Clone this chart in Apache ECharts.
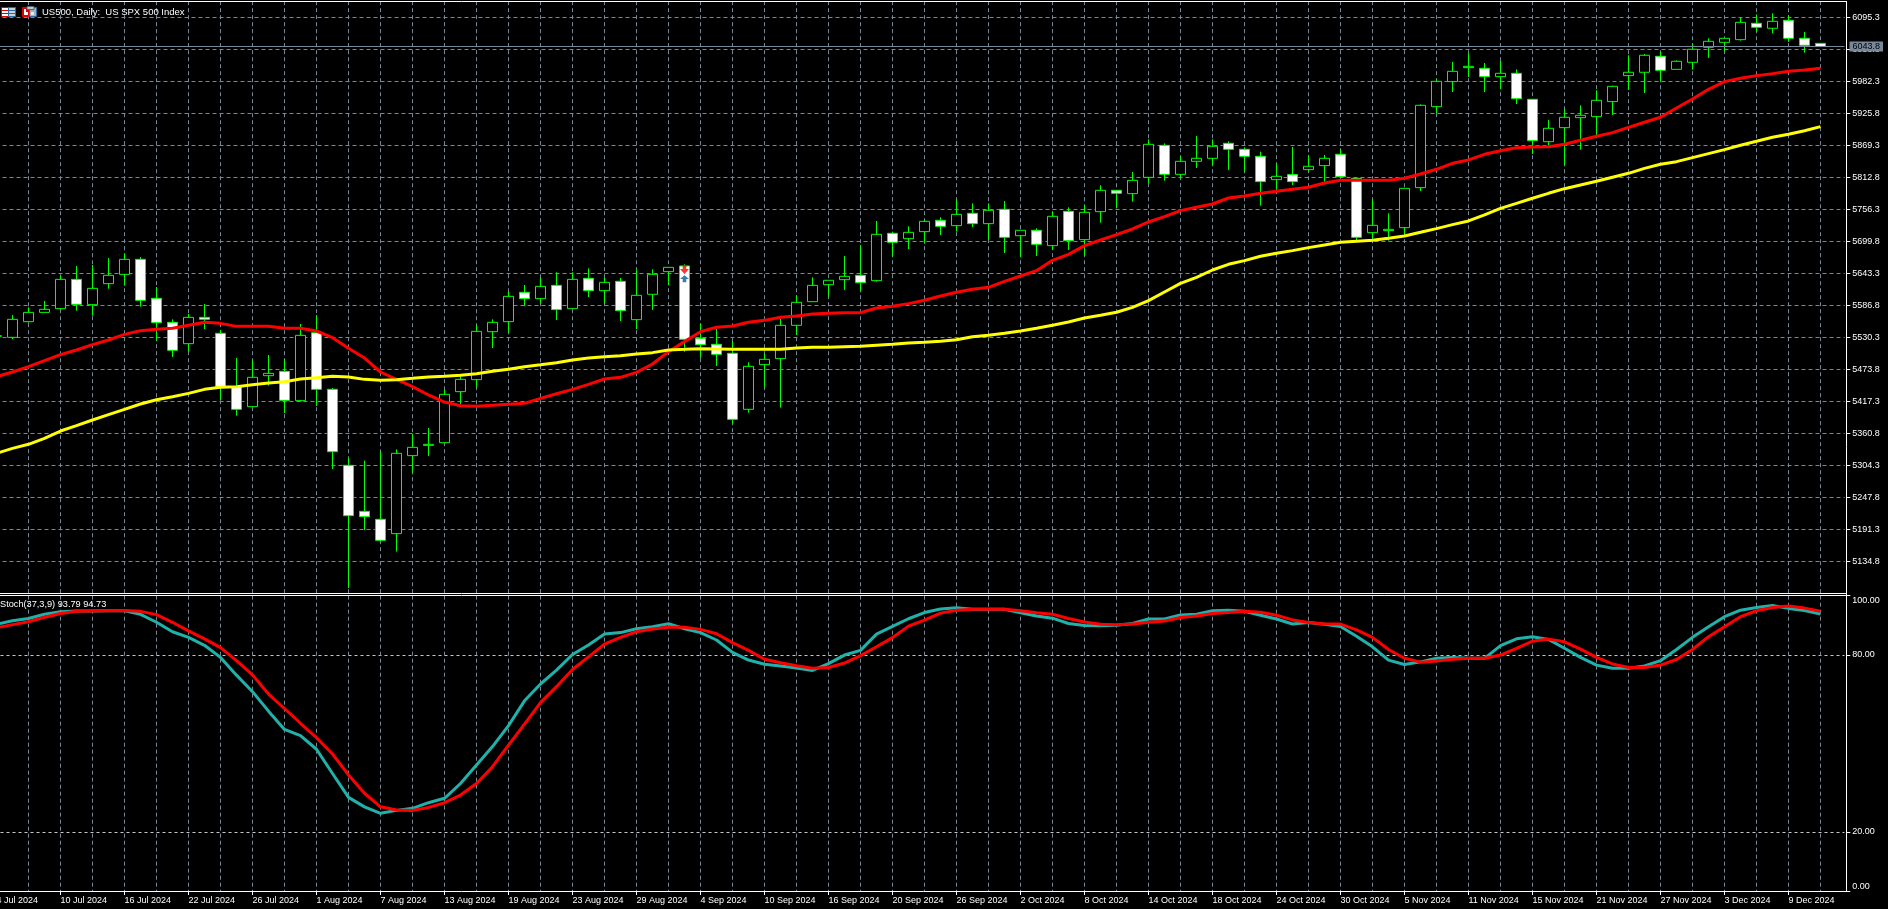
<!DOCTYPE html>
<html>
<head>
<meta charset="utf-8">
<title>US500, Daily</title>
<style>
  html, body { margin: 0; padding: 0; background: #000; }
  #chart { width: 1888px; height: 909px; }
</style>
</head>
<body>
<div id="chart"></div>
<script src="https://cdn.jsdelivr.net/npm/echarts@6/dist/echarts.min.js"></script>
<script>
// trading days, the last empty one is the blank space after the last bar
var dates = [
  '4 Jul 2024','5 Jul 2024','8 Jul 2024','9 Jul 2024','10 Jul 2024','11 Jul 2024','12 Jul 2024','15 Jul 2024','16 Jul 2024','17 Jul 2024',
  '18 Jul 2024','19 Jul 2024','22 Jul 2024','23 Jul 2024','24 Jul 2024','25 Jul 2024','26 Jul 2024','29 Jul 2024','30 Jul 2024','31 Jul 2024',
  '1 Aug 2024','2 Aug 2024','5 Aug 2024','6 Aug 2024','7 Aug 2024','8 Aug 2024','9 Aug 2024','12 Aug 2024','13 Aug 2024','14 Aug 2024',
  '15 Aug 2024','16 Aug 2024','19 Aug 2024','20 Aug 2024','21 Aug 2024','22 Aug 2024','23 Aug 2024','26 Aug 2024','27 Aug 2024','28 Aug 2024',
  '29 Aug 2024','30 Aug 2024','2 Sep 2024','3 Sep 2024','4 Sep 2024','5 Sep 2024','6 Sep 2024','9 Sep 2024','10 Sep 2024','11 Sep 2024',
  '12 Sep 2024','13 Sep 2024','16 Sep 2024','17 Sep 2024','18 Sep 2024','19 Sep 2024','20 Sep 2024','23 Sep 2024','24 Sep 2024','25 Sep 2024',
  '26 Sep 2024','27 Sep 2024','30 Sep 2024','1 Oct 2024','2 Oct 2024','3 Oct 2024','4 Oct 2024','7 Oct 2024','8 Oct 2024','9 Oct 2024',
  '10 Oct 2024','11 Oct 2024','14 Oct 2024','15 Oct 2024','16 Oct 2024','17 Oct 2024','18 Oct 2024','21 Oct 2024','22 Oct 2024','23 Oct 2024',
  '24 Oct 2024','25 Oct 2024','28 Oct 2024','29 Oct 2024','30 Oct 2024','31 Oct 2024','1 Nov 2024','4 Nov 2024','5 Nov 2024','6 Nov 2024',
  '7 Nov 2024','8 Nov 2024','11 Nov 2024','12 Nov 2024','13 Nov 2024','14 Nov 2024','15 Nov 2024','18 Nov 2024','19 Nov 2024','20 Nov 2024',
  '21 Nov 2024','22 Nov 2024','25 Nov 2024','26 Nov 2024','27 Nov 2024','28 Nov 2024','29 Nov 2024','2 Dec 2024','3 Dec 2024','4 Dec 2024',
  '5 Dec 2024','6 Dec 2024','9 Dec 2024','10 Dec 2024','11 Dec 2024',''
];

var priceOpen = [
  5532.0,5530.2,5557.9,5574.3,5580.8,5632.6,5587.9,5625.0,5641.4,5667.9,
  5599.1,5556.7,5519.0,5565.5,5537.3,5443.1,5407.8,5462.5,5470.2,5418.4,
  5538.4,5438.4,5304.2,5223.0,5208.9,5183.6,5321.3,5339.5,5344.2,5434.3,
  5455.5,5540.2,5557.9,5609.7,5598.5,5622.0,5580.8,5634.4,5612.6,5629.1,
  5561.4,5606.2,5646.2,5656.2,5528.5,5517.9,5502.0,5403.1,5482.0,5492.6,
  5551.4,5593.2,5623.2,5632.0,5639.7,5630.3,5713.9,5704.4,5716.8,5736.8,
  5727.4,5749.2,5730.9,5756.2,5709.7,5719.2,5692.1,5752.7,5702.7,5752.1,
  5789.8,5783.9,5812.7,5869.2,5818.0,5841.0,5846.3,5872.8,5862.2,5849.8,
  5808.6,5817.5,5826.3,5833.4,5853.4,5811.0,5715.0,5718.6,5723.9,5794.5,
  5937.5,5981.7,6006.4,6005.2,5990.5,5996.4,5950.5,5875.7,5900.4,5918.1,
  5919.9,5946.4,5992.3,5998.2,6026.4,6003.4,6015.8,6042.3,6051.1,6055.8,
  6084.7,6075.9,6090.0,6058.2,6049.3
];
var priceClose = [
  5533.0,5562.0,5574.3,5579.6,5632.6,5588.5,5616.7,5639.7,5667.9,5595.5,
  5556.1,5507.3,5565.5,5562.0,5443.1,5403.1,5459.6,5466.6,5419.0,5533.7,
  5438.4,5328.3,5215.3,5213.6,5171.8,5325.4,5336.0,5341.3,5429.6,5456.0,
  5540.8,5556.7,5602.6,5598.5,5620.2,5579.1,5632.6,5612.6,5627.3,5577.3,
  5604.4,5641.5,5653.8,5526.7,5517.3,5500.2,5385.4,5479.0,5491.4,5551.4,
  5592.0,5622.0,5630.9,5637.9,5626.7,5712.1,5698.0,5715.6,5735.0,5726.2,
  5747.4,5730.9,5754.5,5706.8,5719.2,5694.4,5743.9,5700.9,5750.9,5789.8,
  5784.5,5807.4,5871.0,5818.0,5841.0,5846.3,5867.5,5862.2,5849.8,5805.1,
  5814.5,5805.1,5832.2,5846.3,5813.9,5706.8,5728.0,5720.9,5793.3,5939.9,
  5982.2,5999.9,6008.7,5990.5,5996.4,5951.6,5877.5,5899.3,5918.7,5922.2,
  5948.7,5973.4,5998.2,6028.2,6001.7,6017.6,6038.8,6052.9,6058.2,6086.4,
  6077.6,6088.2,6058.2,6045.8,6043.8
];
var priceLow = [
  5530.0,5527.3,5556.1,5574.3,5578.5,5577.3,5568.5,5616.1,5621.4,5584.3,
  5524.3,5495.5,5504.9,5544.9,5419.6,5391.9,5407.8,5444.9,5396.6,5416.6,
  5409.0,5297.7,5087.6,5190.0,5171.8,5151.8,5291.3,5320.7,5344.2,5412.5,
  5440.7,5511.4,5538.4,5585.5,5590.2,5560.8,5580.8,5601.4,5589.1,5559.0,
  5544.9,5578.5,5622.6,5504.9,5493.7,5479.6,5378.4,5397.2,5441.4,5406.1,
  5534.3,5593.2,5602.0,5613.8,5610.9,5628.5,5672.7,5686.2,5695.6,5710.9,
  5716.8,5725.0,5702.1,5679.1,5672.1,5673.8,5685.0,5684.4,5674.4,5732.7,
  5758.0,5769.8,5802.1,5806.8,5811.0,5829.2,5833.3,5825.7,5822.1,5762.7,
  5790.4,5799.2,5823.4,5805.1,5813.9,5700.9,5702.1,5700.9,5709.2,5788.6,
  5925.2,5963.4,5989.9,5963.4,5968.7,5942.2,5854.0,5868.7,5833.4,5861.6,
  5887.5,5922.8,5967.0,5961.6,5982.8,6003.4,6002.8,6023.5,6034.6,6054.1,
  6069.4,6067.0,6051.7,6032.9,6043.8
];
var priceHigh = [
  5536.0,5569.6,5583.2,5594.4,5638.5,5656.2,5657.9,5670.3,5677.3,5672.0,
  5619.1,5562.0,5571.4,5589.1,5543.2,5493.7,5489.6,5499.0,5491.9,5553.7,
  5569.6,5440.7,5317.2,5312.4,5329.5,5332.5,5359.5,5370.1,5437.2,5461.9,
  5552.0,5562.0,5611.4,5622.6,5636.1,5645.0,5645.0,5652.0,5635.0,5635.0,
  5649.1,5650.3,5653.8,5659.1,5554.9,5544.9,5523.8,5486.1,5500.8,5562.6,
  5604.4,5636.2,5630.9,5673.8,5693.3,5735.6,5716.8,5726.2,5738.6,5742.1,
  5773.9,5766.8,5766.8,5770.9,5719.2,5722.7,5752.7,5759.8,5763.3,5798.6,
  5789.8,5822.1,5879.8,5872.8,5849.8,5885.7,5879.8,5876.3,5865.7,5858.1,
  5837.5,5866.3,5852.2,5852.2,5862.8,5812.2,5774.5,5749.2,5793.3,5941.6,
  5987.0,6016.4,6030.5,6014.6,6018.2,6003.4,5950.5,5914.0,5932.8,5939.9,
  5966.4,5974.6,6028.2,6030.5,6034.6,6019.3,6049.3,6058.2,6058.2,6094.1,
  6100.5,6102.3,6099.4,6069.4,6049.3
];

var maFast = [
  5460.8,5469.0,5478.4,5489.0,5499.6,5507.8,5517.3,5525.5,5535.5,5542.0,
  5544.3,5546.1,5551.4,5556.7,5554.9,5549.6,5549.6,5549.6,5546.1,5546.1,
  5541.4,5529.6,5510.8,5493.7,5469.0,5456.0,5443.1,5428.4,5416.0,5409.5,
  5408.4,5410.1,5411.9,5413.7,5422.5,5430.7,5438.4,5447.2,5456.6,5459.6,
  5468.4,5483.1,5504.9,5522.6,5540.2,5547.9,5550.2,5556.7,5560.2,5565.5,
  5567.9,5571.4,5572.6,5573.8,5573.8,5582.0,5585.0,5589.7,5595.6,5603.2,
  5609.7,5615.0,5618.5,5629.1,5638.5,5647.9,5666.2,5676.8,5692.1,5702.1,
  5711.5,5721.5,5733.9,5743.3,5753.9,5759.8,5765.6,5776.2,5779.8,5784.5,
  5788.0,5791.6,5795.1,5802.8,5807.5,5807.5,5807.5,5807.5,5811.0,5818.6,
  5826.9,5837.5,5843.4,5853.4,5859.8,5865.1,5866.3,5866.9,5871.0,5878.1,
  5885.2,5891.6,5901.0,5909.9,5918.7,5935.2,5951.1,5968.1,5981.7,5987.6,
  5992.3,5995.8,5999.9,6002.3,6005.2
];
var maSlow = [
  5325.4,5334.2,5341.3,5351.9,5364.8,5374.2,5384.2,5393.7,5403.1,5412.5,
  5420.1,5425.4,5431.3,5438.4,5441.9,5443.1,5446.6,5449.6,5451.9,5456.6,
  5459.0,5461.3,5460.2,5456.0,5454.3,5455.5,5457.8,5460.2,5461.3,5463.1,
  5466.1,5470.2,5473.7,5478.4,5481.9,5485.5,5490.2,5493.7,5496.1,5497.8,
  5500.8,5503.2,5507.9,5509.0,5510.2,5509.6,5509.0,5509.0,5509.0,5509.0,
  5511.4,5512.6,5512.6,5513.7,5514.3,5516.1,5517.9,5520.2,5521.4,5523.2,
  5526.1,5531.4,5533.8,5537.3,5541.4,5546.1,5551.4,5557.3,5564.4,5569.1,
  5574.4,5583.2,5595.0,5610.3,5625.6,5636.2,5649.1,5659.1,5665.6,5673.3,
  5678.6,5683.3,5688.6,5693.3,5698.0,5699.8,5701.5,5705.0,5709.2,5715.6,
  5722.1,5729.2,5735.7,5746.3,5758.0,5766.8,5775.7,5784.5,5792.7,5799.2,
  5805.7,5812.8,5819.8,5828.6,5835.7,5840.4,5847.5,5854.6,5861.6,5869.3,
  5876.3,5883.4,5888.7,5895.1,5902.2
];

var stochMain = [
  90.3,91.5,92.3,93.7,94.6,94.8,94.8,94.9,94.9,93.7,
  91.0,87.8,85.9,83.2,79.1,73.1,67.5,60.9,54.7,52.6,
  48.0,39.8,31.7,28.5,26.3,27.3,28.0,29.9,31.4,36.4,
  42.7,48.9,56.0,64.4,70.1,74.8,80.1,83.3,87.0,87.5,
  88.8,89.5,90.5,88.8,87.5,85.0,80.8,78.2,76.8,76.2,
  75.5,74.7,77.0,79.9,81.5,87.0,89.6,92.2,94.3,95.5,
  95.9,95.4,95.4,95.4,94.2,93.1,92.4,90.6,89.9,89.8,
  90.0,90.6,92.1,92.1,93.5,93.7,94.9,95.1,94.7,93.4,
  92.1,90.4,90.9,90.3,89.6,86.3,82.7,78.2,76.7,77.6,
  78.8,79.1,78.8,78.8,83.1,85.4,86.1,85.2,82.2,79.1,
  76.5,75.4,75.4,76.2,78.0,81.8,85.9,89.5,92.9,95.1,
  96.0,96.7,95.7,95.0,93.79
];
var stochSignal = [
  89.2,90.2,91.2,92.7,94.0,94.7,94.8,94.9,95.0,94.7,
  93.6,91.0,88.1,85.4,82.4,78.0,73.2,66.7,61.8,56.8,
  51.9,46.4,39.3,33.1,28.5,27.4,27.3,28.3,29.9,32.5,
  36.4,42.1,49.4,56.5,63.8,69.2,75.0,79.3,83.6,85.9,
  87.8,88.7,89.3,89.3,88.6,87.1,84.1,81.5,78.5,77.3,
  76.3,75.4,75.7,77.2,79.7,82.7,85.8,89.7,91.7,94.1,
  95.1,95.4,95.4,95.4,94.9,94.2,93.7,92.3,91.1,90.3,
  90.2,90.4,91.0,91.4,92.6,93.1,94.0,94.3,94.7,94.4,
  93.4,91.8,90.9,90.4,90.4,88.4,85.9,81.8,78.8,77.5,
  77.9,78.5,78.8,78.8,79.9,82.2,84.6,85.3,84.4,81.9,
  79.1,76.9,75.7,75.7,76.5,78.4,81.8,86.1,89.5,92.9,
  94.9,96.0,96.5,95.8,94.73
];

var priceTicks = [5134.8,5191.3,5247.8,5304.3,5360.8,5417.3,5473.8,5530.3,5586.8,5643.3,5699.8,5756.3,5812.8,5869.3,5925.8,5982.3,6038.8,6095.3];
var stochTicks = [0,20,80,100];
var lastPrice = 6043.8;
var sellArrow = 5650;
var buyArrow = 5633.7;
var arrowDate = '3 Sep 2024';

var gridColor = '#778899';
var labelFont = { color: '#fff', fontFamily: 'Liberation Sans', fontSize: 9 };

var candles = priceOpen.map(function (o, i) {
  return [o, priceClose[i], priceLow[i], priceHigh[i]];
});

function frameLine(x1, y1, x2, y2) {
  return {
    type: 'line',
    z: 100,
    silent: true,
    shape: { x1: x1, y1: y1, x2: x2, y2: y2 },
    style: { stroke: '#fff', lineWidth: 1 }
  };
}
function box(x, y, w, h, fill, stroke) {
  return {
    type: 'rect',
    z: 100,
    silent: true,
    shape: { x: x, y: y, width: w, height: h },
    style: { fill: fill, stroke: stroke || null, lineWidth: 1 }
  };
}

var myChart = echarts.init(document.getElementById('chart'), null, { renderer: 'canvas' });
myChart.setOption({
  animation: false,
  backgroundColor: '#000',
  title: [
    {
      text: 'US500, Daily:  US SPX 500 Index',
      left: 42,
      top: 7.5,
      padding: 0,
      textStyle: { color: '#fff', fontFamily: 'Liberation Sans', fontSize: 9.5, fontWeight: 'normal' }
    },
    {
      text: 'Stoch(37,3,9) 93.79 94.73',
      left: 0,
      top: 599.5,
      padding: 0,
      textStyle: { color: '#fff', fontFamily: 'Liberation Sans', fontSize: 9.2, fontWeight: 'normal' }
    }
  ],
  grid: [
    { left: -11.5, width: 1856, top: 1.2, height: 591.8, outerBoundsMode: 'none' },
    { left: -11.5, width: 1856, top: 595.7, height: 295.3, outerBoundsMode: 'none' }
  ],
  xAxis: [
    {
      type: 'category',
      gridIndex: 0,
      data: dates,
      axisLine: { show: false },
      axisTick: { show: false },
      axisLabel: { show: false },
      splitLine: { show: true, interval: 1, alignWithLabel: true, lineStyle: { color: gridColor, type: [4, 3], width: 1 } }
    },
    {
      type: 'category',
      gridIndex: 1,
      data: dates,
      axisLine: { show: false },
      axisTick: { show: true, interval: 3, alignWithLabel: true, length: 4, lineStyle: { color: '#fff' } },
      axisLabel: Object.assign({ interval: 3, align: 'left', margin: 5, hideOverlap: false, showMinLabel: true }, labelFont),
      splitLine: { show: true, interval: 1, alignWithLabel: true, lineStyle: { color: gridColor, type: [4, 3], width: 1 } }
    }
  ],
  yAxis: [
    {
      type: 'value',
      gridIndex: 0,
      position: 'right',
      offset: 1.8,
      min: 5078.8,
      max: 6123.7,
      axisLine: { show: false },
      axisTick: { show: true, length: 4, customValues: priceTicks, lineStyle: { color: '#fff' } },
      axisLabel: Object.assign({
        margin: 6,
        customValues: priceTicks,
        formatter: function (v) { return v.toFixed(1); }
      }, labelFont),
      splitLine: { show: true, lineStyle: { color: gridColor, type: [4, 3], width: 1 } }
    },
    {
      type: 'value',
      gridIndex: 1,
      position: 'right',
      offset: 1.8,
      min: 0,
      max: 100,
      axisLine: { show: false },
      axisTick: { show: true, length: 4, customValues: stochTicks, lineStyle: { color: '#fff' } },
      axisLabel: Object.assign({
        margin: 6,
        customValues: stochTicks,
        verticalAlignMinLabel: 'bottom',
        verticalAlignMaxLabel: 'top',
        formatter: function (v) { return v.toFixed(2); }
      }, labelFont),
      splitLine: { show: true, lineStyle: { color: '#c8c8c8', type: [3, 3], width: 1 } }
    }
  ],
  series: [
    {
      name: 'US500',
      type: 'candlestick',
      xAxisIndex: 0,
      yAxisIndex: 0,
      barWidth: 11,
      silent: true,
      data: candles,
      itemStyle: {
        color: '#000',
        color0: '#fff',
        borderColor: '#00ff00',
        borderColor0: '#00ff00',
        borderWidth: 1
      },
      markLine: {
        silent: true,
        symbol: 'none',
        animation: false,
        lineStyle: { color: gridColor, type: 'solid', width: 1 },
        label: {
          show: true,
          position: 'end',
          distance: 5,
          formatter: lastPrice.toFixed(1),
          color: '#000',
          fontFamily: 'Liberation Sans',
          fontSize: 9,
          backgroundColor: gridColor,
          padding: [1, 3, 0, 3]
        },
        data: [{ yAxis: lastPrice }]
      }
    },
    {
      name: 'MA fast',
      type: 'line',
      xAxisIndex: 0,
      yAxisIndex: 0,
      data: maFast,
      showSymbol: false,
      silent: true,
      lineStyle: { color: '#ff0000', width: 3 }
    },
    {
      name: 'MA slow',
      type: 'line',
      xAxisIndex: 0,
      yAxisIndex: 0,
      data: maSlow,
      showSymbol: false,
      silent: true,
      lineStyle: { color: '#ffff00', width: 3 }
    },
    {
      name: 'Sell',
      type: 'scatter',
      xAxisIndex: 0,
      yAxisIndex: 0,
      silent: true,
      symbol: 'path://M3 0H7V4H10L5 9L0 4H3Z',
      symbolSize: [9, 9],
      itemStyle: { color: '#ff0000' },
      data: [[arrowDate, sellArrow]]
    },
    {
      name: 'Buy',
      type: 'scatter',
      xAxisIndex: 0,
      yAxisIndex: 0,
      silent: true,
      symbol: 'path://M5 0L10 5H7V9H3V5H0Z',
      symbolSize: [9, 7],
      itemStyle: { color: '#0b5a9e' },
      data: [[arrowDate, buyArrow]]
    },
    {
      name: 'Stoch main',
      type: 'line',
      xAxisIndex: 1,
      yAxisIndex: 1,
      data: stochMain,
      showSymbol: false,
      silent: true,
      lineStyle: { color: '#20b2aa', width: 3 }
    },
    {
      name: 'Stoch signal',
      type: 'line',
      xAxisIndex: 1,
      yAxisIndex: 1,
      data: stochSignal,
      showSymbol: false,
      silent: true,
      lineStyle: { color: '#ff0000', width: 3 }
    }
  ],
  graphic: [
    // chart frame and the pane separator
    frameLine(0, 1.5, 1846.5, 1.5),
    frameLine(0, 593.5, 1846.5, 593.5),
    frameLine(0, 595.5, 1846.5, 595.5),
    frameLine(0, 891.5, 1846.5, 891.5),
    frameLine(1846.5, 1, 1846.5, 892),
    // the two small terminal icons before the title
    box(1.5, 7.5, 7, 9, '#fff', '#e00000'),
    box(2, 10, 6, 1, '#e00000'),
    box(2, 13, 6, 1, '#e00000'),
    box(8.5, 7.5, 7, 9, '#c8d0d8', '#2a6aa0'),
    box(9, 10, 6, 1, '#2a6aa0'),
    box(9, 13, 6, 1, '#2a6aa0'),
    box(22.5, 7.5, 6, 9, '#e00000', '#e00000'),
    box(24, 9, 2, 6, '#fff'),
    box(26, 12, 2, 3, '#fff'),
    box(29.5, 7.5, 7, 9, '#9fb0c0', '#2a6aa0'),
    box(27, 6.5, 7, 3, '#c0c8d0', '#50606c'),
    box(31, 12, 3, 3, '#e8e8e8')
  ]
});
</script>
</body>
</html>
